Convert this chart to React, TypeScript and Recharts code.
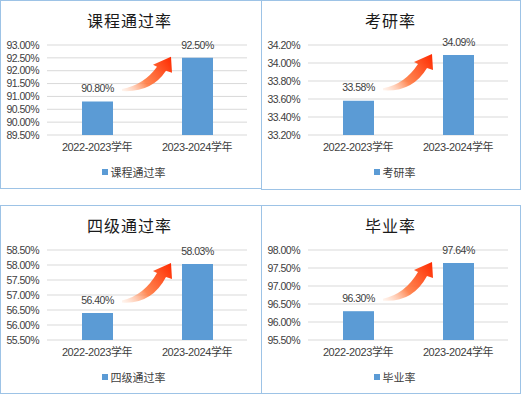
import React from 'react';
import { BarChart, Bar, XAxis, YAxis, CartesianGrid, Legend } from 'recharts';

const categories = ['2022-2023学年', '2023-2024学年'];

const courseName = '课程通过率';
const courseValues = [90.8, 92.5];
const courseTicks = [89.5, 90, 90.5, 91, 91.5, 92, 92.5, 93];

const gradName = '考研率';
const gradValues = [33.58, 34.09];
const gradTicks = [33.2, 33.4, 33.6, 33.8, 34.0, 34.2];

const cetName = '四级通过率';
const cetValues = [56.4, 58.03];
const cetTicks = [55.5, 56, 56.5, 57, 57.5, 58, 58.5];

const finishName = '毕业率';
const finishValues = [96.3, 97.64];
const finishTicks = [95.5, 96, 96.5, 97, 97.5, 98];

const FONT = '"Liberation Sans", "Noto Sans CJK SC", sans-serif';
const CJK = '"Noto Sans CJK SC", sans-serif';
const BAR = '#5B9BD5';

type PanelProps = {
  id: string;
  name: string;
  values: number[];
  ticks: number[];
  left: number;
  top: number;
  width: number;
  height: number;
};

const makeLabel = (values: number[], min: number, id: string) => (props: any) => {
  const vb = props.viewBox || {};
  const x = Number(vb.x ?? props.x);
  const y = Number(vb.y ?? props.y);
  const w = Number(vb.width ?? props.width);
  const h = Number(vb.height ?? props.height);
  let idx = props.index;
  if (idx === undefined) idx = Number(props.value) === values[1] ? 1 : 0;
  const v = values[idx];
  const txt = (
    <text
      x={x + w / 2}
      y={y - 13}
      dy="0.35em"
      textAnchor="middle"
      fontSize={10.5}
      letterSpacing={-0.5}
      fontFamily={FONT}
      fill="#404040"
    >
      {v.toFixed(2)}%
    </text>
  );
  if (idx !== 1) return txt;
  const bottom = y + h;
  const ppu = h / (values[1] - min);
  const top0 = bottom - (values[0] - min) * ppu;
  const T = { x: x - 60, y: top0 - 12 };
  const P = { x: x - 11, y: y - 1 };
  const dx = P.x - T.x;
  const dy = P.y - T.y;
  const pt = (a: number, b: number) => `${T.x + a * dx},${T.y + b * dy}`;
  const d = [
    `M${T.x},${T.y - 0.5}`,
    `Q${pt(0.45, 0.14)} ${P.x - 14},${P.y + 10}`,
    `L${P.x - 18},${P.y + 8}`,
    `L${P.x},${P.y}`,
    `L${P.x + 1},${P.y + 16}`,
    `L${P.x - 5},${P.y + 14}`,
    `Q${pt(0.6, -0.1)} ${T.x},${T.y + 1.5}`,
    'Z',
  ].join(' ');
  const gid = `grad-${id}`;
  return (
    <g>
      <defs>
        <linearGradient id={gid} gradientUnits="userSpaceOnUse" x1={T.x} y1={T.y} x2={P.x} y2={P.y}>
          <stop offset="0" stopColor="#FFD0B5" stopOpacity={0.25} />
          <stop offset="0.4" stopColor="#FF7A40" stopOpacity={0.9} />
          <stop offset="1" stopColor="#FF2A00" stopOpacity={1} />
        </linearGradient>
      </defs>
      <path d={d} fill={`url(#${gid})`} />
      {txt}
    </g>
  );
};

const Panel = ({ id, name, values, ticks, left, top, width, height }: PanelProps) => {
  const data = categories.map((c, i) => ({ category: c, value: values[i] }));
  const min = ticks[0];
  const max = ticks[ticks.length - 1];
  const chartW = 259;
  return (
    <div style={{ position: 'absolute', left, top, width, height }}>
      <div
        style={{
          position: 'absolute',
          left: 0,
          top: 10,
          width: chartW,
          textAlign: 'center',
          fontFamily: CJK,
          fontSize: 16,
          lineHeight: '20px',
          color: '#1a1a1a',
          letterSpacing: 1,
        }}
      >
        {name}
      </div>
      <div style={{ position: 'absolute', left: 0, top: 0 }}>
        <BarChart
          width={chartW}
          height={188}
          data={data}
          margin={{ top: 45, right: 12, left: 0, bottom: 33 }}
          style={{ fontFamily: FONT }}
        >
          <CartesianGrid vertical={false} stroke="#D9D9D9" />
          <XAxis
            dataKey="category"
            axisLine={false}
            tickLine={false}
            height={20}
            interval={0}
            tick={{ fontSize: 11, fill: '#404040', fontFamily: FONT, letterSpacing: -0.4 }}
          />
          <YAxis
            width={47}
            domain={[min, max]}
            ticks={ticks}
            interval={0}
            allowDataOverflow
            axisLine={false}
            tickLine={false}
            tickFormatter={(v: number) => `${v.toFixed(2)}%`}
            tick={{ fontSize: 10.5, fill: '#404040', fontFamily: FONT, letterSpacing: -0.5 }}
          />
          <Legend
            layout="horizontal"
            verticalAlign="middle"
            align="center"
            wrapperStyle={{ top: 165, left: 0, width: chartW, height: 14 }}
            content={() => (
              <div
                style={{
                  display: 'flex',
                  justifyContent: 'center',
                  alignItems: 'center',
                  height: 14,
                  fontSize: 11,
                  color: '#404040',
                  fontFamily: CJK,
                  paddingLeft: 8,
                }}
              >
                <span
                  style={{ display: 'inline-block', width: 6, height: 6, background: BAR, marginRight: 3 }}
                />
                <span>{name}</span>
              </div>
            )}
          />
          <Bar
            dataKey="value"
            name={name}
            fill={BAR}
            barSize={31}
            isAnimationActive={false}
            label={makeLabel(values, min, id)}
          />
        </BarChart>
      </div>
      <div
        style={{
          position: 'absolute',
          left: 0,
          top: 0,
          width,
          height,
          boxSizing: 'border-box',
          border: '1px solid #9DC3E6',
          pointerEvents: 'none',
        }}
      />
    </div>
  );
};

export default function App() {
  return (
    <div
      style={{
        position: 'absolute',
        left: 0,
        top: 0,
        width: 522,
        height: 396,
        background: '#ffffff',
        overflow: 'hidden',
      }}
    >
      <Panel id="p1" name={courseName} values={courseValues} ticks={courseTicks} left={0} top={0} width={262} height={189} />
      <Panel id="p2" name={gradName} values={gradValues} ticks={gradTicks} left={261} top={0} width={260} height={190} />
      <Panel id="p3" name={cetName} values={cetValues} ticks={cetTicks} left={0} top={205} width={262} height={189} />
      <Panel id="p4" name={finishName} values={finishValues} ticks={finishTicks} left={261} top={205} width={260} height={189} />
    </div>
  );
}
